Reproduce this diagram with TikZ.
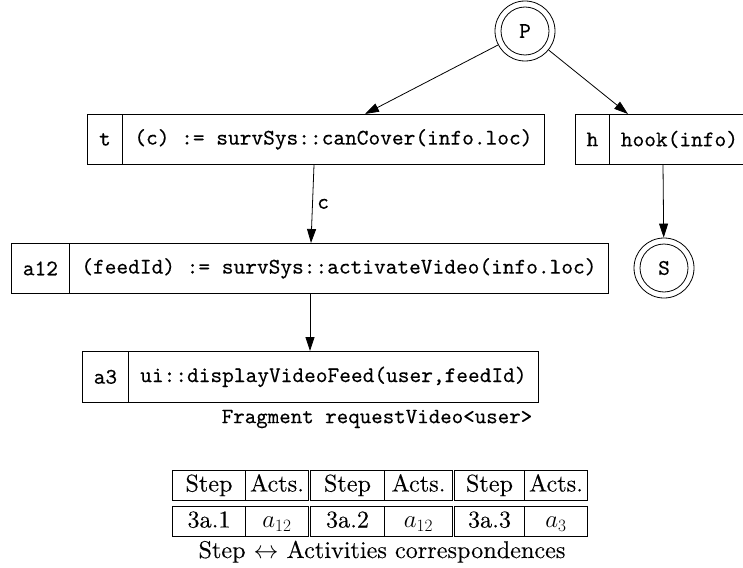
\documentclass[tikz,border=0pt]{standalone}
\usepackage{fontspec}
\newfontfamily\mymono{lmmono10-regular.otf}[FakeBold=0.25]
\newfontfamily\myroman{lmroman10-regular.otf}[FakeBold=0.15]
\usetikzlibrary{arrows.meta,calc}
\newcommand\bxfont{\mymono\fontsize{22.3}{26}\selectfont}
\newcommand\frgfont{\mymono\fontsize{21.9}{26}\selectfont}
\newcommand\tbfont{\myroman\fontsize{24.2}{28}\selectfont}
\begin{document}
\begin{tikzpicture}[x=1pt,y=-1pt,
  cellbox/.style={draw, line width=0.8pt, inner sep=0pt, minimum height=50pt, anchor=north west, font=\bxfont},
  ring/.style={circle, draw, line width=0.8pt, inner sep=0pt},
  arr/.style={-{Triangle[length=14pt,width=9pt]}, line width=0.8pt},
  tcell/.style={draw, line width=1pt, inner sep=0pt, anchor=south west, minimum height=30pt, text height=21pt, text depth=9pt, font=\tbfont}
]
\clip (0,0) rectangle (743,567);
\fill[white] (0,0) rectangle (743,567);

% activity boxes
\node[cellbox, minimum width=35pt] (tl) at (87,114) {t};
\node[cellbox, minimum width=422pt] (tb) at (122,114) {(c) := survSys::canCover(info.loc)};
\node[cellbox, minimum width=34pt] (hl) at (575,114) {h};
\node[cellbox, minimum width=140pt] (hb) at (609,114) {hook(info)};
\node[cellbox, minimum width=58pt] (al) at (11,243) {a12};
\node[cellbox, minimum width=539pt] (ab) at (69,243) {(feedId) := survSys::activateVideo(info.loc)};
\node[cellbox, minimum width=46pt, minimum height=51pt] (dl) at (82,351) {a3};
\node[cellbox, minimum width=410pt, minimum height=51pt] (db) at (128,351) {ui::displayVideoFeed(user,feedId)};

% start / stop circles
\node[ring, minimum size=60pt] (P) at (525,31) {};
\node[ring, minimum size=48pt, font=\bxfont] (Pin) at (P) {P};
\node[ring, minimum size=60pt] (S) at (664,268) {};
\node[ring, minimum size=48pt, font=\bxfont] (Sin) at (S) {S};

% connectors
\draw[arr] (P) -- ([xshift=243pt]tb.north west);
\draw[arr] (P) -- ([xshift=19pt]hb.north west);
\draw[arr] ([xshift=192pt]tb.south west) -- node[right=1pt, font=\bxfont] (clab) {c} ([xshift=242pt]ab.north west);
\draw[arr] ([xshift=54pt]hb.south west) -- (S);
\draw[arr] ([xshift=241pt]ab.south west) -- ([xshift=182pt]db.north west);

\node[font=\frgfont] (frag) at (377,419) {Fragment requestVideo<user>};

% table
\node[tcell, minimum width=73pt] (r1a) at (172,501) {Step};
\node[tcell, minimum width=63pt] (r1b) at (245,501) {Acts.};
\node[tcell, minimum width=74pt] (r1c) at (310,501) {Step};
\node[tcell, minimum width=68pt] (r1d) at (384,501) {Acts.};
\node[tcell, minimum width=70pt] (r1e) at (454,501) {Step};
\node[tcell, minimum width=63pt] (r1f) at (524,501) {Acts.};
\node[tcell, minimum width=73pt] (r2a) at (172,537) {3a.1};
\node[tcell, minimum width=63pt] (r2b) at (245,537) {$a_{12}$};
\node[tcell, minimum width=74pt] (r2c) at (310,537) {3a.2};
\node[tcell, minimum width=68pt] (r2d) at (384,537) {$a_{12}$};
\node[tcell, minimum width=70pt] (r2e) at (454,537) {3a.3};
\node[tcell, minimum width=63pt] (r2f) at (524,537) {$a_3$};
\node[font=\tbfont, anchor=base] (cap) at (382,558) {Step $\leftrightarrow$ Activities correspondences};
\end{tikzpicture}
\end{document}
